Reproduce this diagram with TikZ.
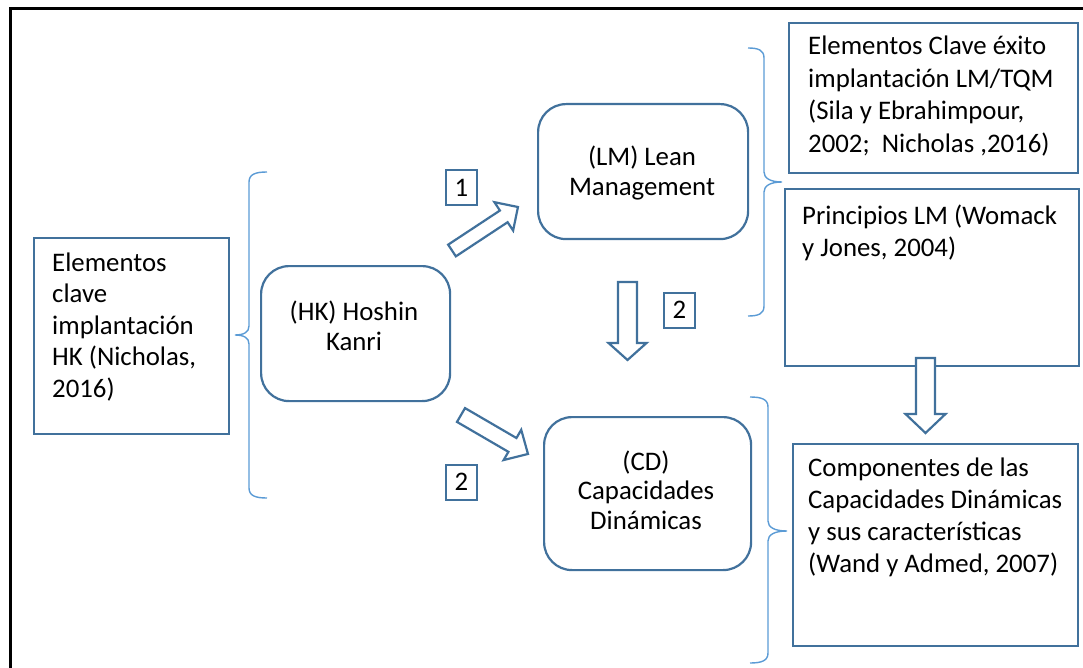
\documentclass[tikz,border=0pt]{standalone}
\usepackage{fontspec}
\setmainfont{Carlito}
\definecolor{boxblue}{RGB}{65,113,156}
\definecolor{braceblue}{RGB}{91,155,213}
\newcommand{\blockarr}[7]{%
  \begin{scope}[shift={(#1,#2)}, rotate=#3]
    \draw[barrow] (0,-#5/2) -- (#4-#7,-#5/2) -- (#4-#7,-#6/2) -- (#4,0)
      -- (#4-#7,#6/2) -- (#4-#7,#5/2) -- (0,#5/2) -- cycle;
  \end{scope}}
\begin{document}
\begin{tikzpicture}[x=1pt,y=-1pt,
  box/.style={draw=boxblue, line width=2.2pt, fill=white, inner sep=0pt, anchor=north west},
  rbox/.style={box, rounded corners=28pt},
  numbox/.style={draw=boxblue, line width=2pt, inner sep=0pt, minimum width=31pt, minimum height=35pt, font=\fontsize{26.8}{30}\selectfont},
  txt/.style={inner sep=0pt, anchor=base west, align=left, font=\fontsize{26.8}{31.5}\selectfont},
  ctxt/.style={inner sep=0pt, anchor=base, align=center, font=\fontsize{26.8}{29.5}\selectfont},
  bracel/.style={draw=braceblue, line width=1.4pt},
  barrow/.style={draw=boxblue, line width=2.2pt, fill=white, line join=miter}]
\useasboundingbox (0,0) rectangle (1083,668);
% outer frame
\draw[line width=3pt, black] (10,668) -- (10,9) -- (1083,9);
% boxes
\node[box, minimum width=195pt, minimum height=196pt] (hkel) at (33,237) {};
\node[rbox, minimum width=189pt, minimum height=135pt] (hk) at (260,265) {};
\node[rbox, minimum width=210pt, minimum height=135pt] (lm) at (537,103) {};
\node[rbox, minimum width=207pt, minimum height=153pt] (cd) at (543,416) {};
\node[box, minimum width=289pt, minimum height=150pt] (lmel) at (788,22) {};
\node[box, minimum width=294pt, minimum height=177pt] (lmpr) at (784,188) {};
\node[box, minimum width=285pt, minimum height=202pt] (cdco) at (792,443) {};
% texts (anchored at the baseline of their last line)
\node[txt] (hkelt) at (52,397) {Elementos\\clave\\implantación\\HK (Nicholas,\\2016)};
\node[ctxt, font=\fontsize{26.8}{30}\selectfont] (hkt) at (354,350) {(HK) Hoshin\\Kanri};
\node[ctxt] (lmt) at (642,195.5) {(LM) Lean\\Management};
\node[ctxt] (cdt) at (646,529) {(CD)\\Capacidades\\Dinámicas};
\node[txt, font=\fontsize{26.8}{32.5}\selectfont] (lmelt) at (808,152.5) {Elementos Clave éxito\\implantación LM/TQM\\(Sila y Ebrahimpour,\\2002;\ \ Nicholas ,2016)};
\node[txt, font=\fontsize{26.8}{32}\selectfont] (lmprt) at (802,256) {Principios LM (Womack\\y Jones, 2004)};
\node[txt, font=\fontsize{26.8}{31.7}\selectfont] (cdcot) at (808,572) {Componentes de las\\Capacidades Dinámicas\\y sus características\\(Wand y Admed, 2007)};
% number labels
\node[numbox] (n1) at (461.5,188) {1};
\node[numbox] (n2a) at (679.5,310) {2};
\node[numbox] (n2b) at (461.5,482) {2};
% braces
\draw[bracel] (267,172) .. controls (256,172) and (249,174) .. (249,182) -- (249,326)
  .. controls (249,332) and (244,335) .. (235,335) .. controls (244,335) and (249,338) .. (249,344)
  -- (249,488) .. controls (249,496) and (256,498) .. (267,498);
\draw[bracel] (748,48) .. controls (758,48) and (764,50) .. (764,58) -- (764,172)
  .. controls (764,178) and (770,182) .. (782,182) .. controls (770,182) and (764,186) .. (764,192)
  -- (764,306) .. controls (764,314) and (758,316) .. (748,316);
\draw[bracel] (750,397) .. controls (761,397) and (768,399) .. (768,407) -- (768,521)
  .. controls (768,527) and (774,531) .. (787,531) .. controls (774,531) and (768,535) .. (768,541)
  -- (768,653) .. controls (768,661) and (761,663) .. (750,663);
% block arrows
\blockarr{452}{250.5}{33.4}{79}{14}{34}{17}
\blockarr{461}{415}{-30.2}{77.5}{16}{35}{18}
\blockarr{627.5}{282}{-90}{78}{19}{38}{17}
\blockarr{925.5}{358}{-90}{75}{19}{40}{19}
\end{tikzpicture}
\end{document}
